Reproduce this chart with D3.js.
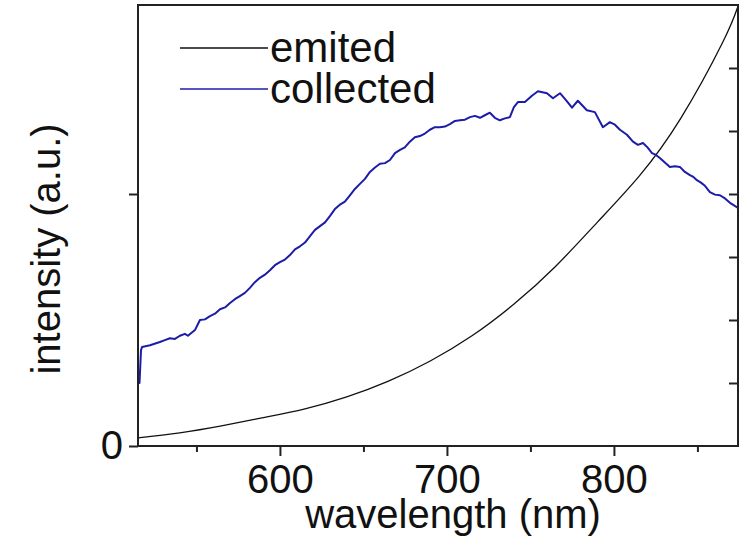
<!DOCTYPE html>
<html><head><meta charset="utf-8">
<script src="https://cdn.jsdelivr.net/npm/d3@7"></script>
<style>
html,body{margin:0;padding:0;background:#fff;}
svg{display:block;font-family:"Liberation Sans",Arial,sans-serif;}
</style></head>
<body>
<svg id="chart" width="742" height="540"></svg>
<script>
// ---- data ----
const emittedWavelength = [515, 540, 565, 590, 615, 640, 665, 690, 715, 740, 765, 790, 815, 840, 865, 874.3];
const emittedIntensity  = [0.13, 0.21, 0.32, 0.45, 0.59, 0.78, 1.03, 1.35, 1.75, 2.25, 2.85, 3.55, 4.28, 5.20, 6.40, 6.98];

const collectedWavelength = [515.3, 515.9, 516.8, 517.4, 522.2, 528.1, 531.1, 534.1, 537.1, 540.1, 543.1, 544.9, 549.1,
  552.1, 555.1, 558.1, 561.1, 564.1, 567.1, 570.1, 573.0, 576.0, 579.0, 582.0, 585.0, 588.0, 591.0, 594.0, 597.0,
  600, 603.0, 606.0, 609.0, 612.0, 615.0, 618.0, 621.0, 624.0, 627.0, 629.9, 632.9, 635.9, 638.9, 641.9, 644.9,
  647.9, 650.9, 653.9, 656.9, 659.9, 662.9, 665.9, 668.9, 671.9, 674.8, 677.8, 680.8, 683.8, 686.8, 689.8, 692.8,
  695.8, 698.8, 701.8, 704.8, 707.8, 710.8, 713.8, 716.8, 719.8, 722.7, 725.7, 728.7, 731.7, 734.7, 737.7, 740.1,
  742.5, 746.7, 750.9, 754.5, 759.9, 763.5, 767.7, 771.3, 774.9, 778.4, 783.8, 788.6, 793.4, 797.6, 800.6, 803.6,
  807.8, 811.4, 814.4, 817.4, 820.1, 822.8, 825.2, 827.5, 830.5, 833.5, 836.5, 839.5, 842.5, 845.5, 847.6, 849.7,
  852.1, 854.5, 857.5, 860.5, 863.5, 866.5, 869.5, 871.9, 874.3];
const collectedIntensity = [1.00, 1.00, 1.52, 1.57, 1.60, 1.65, 1.68, 1.71, 1.70, 1.75, 1.78, 1.75, 1.84,
  2.00, 2.01, 2.06, 2.10, 2.17, 2.20, 2.27, 2.33, 2.38, 2.43, 2.51, 2.60, 2.67, 2.72, 2.79, 2.87,
  2.92, 2.96, 3.03, 3.12, 3.17, 3.23, 3.33, 3.43, 3.49, 3.55, 3.65, 3.76, 3.83, 3.88, 3.98, 4.08,
  4.16, 4.24, 4.35, 4.42, 4.48, 4.49, 4.54, 4.65, 4.70, 4.74, 4.83, 4.90, 4.92, 4.96, 5.02, 5.06,
  5.06, 5.07, 5.11, 5.16, 5.17, 5.18, 5.22, 5.24, 5.21, 5.25, 5.29, 5.21, 5.17, 5.20, 5.22, 5.38,
  5.46, 5.46, 5.56, 5.63, 5.60, 5.52, 5.60, 5.49, 5.37, 5.48, 5.33, 5.30, 5.06, 5.14, 5.10, 5.02,
  4.94, 4.83, 4.78, 4.81, 4.74, 4.65, 4.62, 4.57, 4.50, 4.43, 4.44, 4.43, 4.35, 4.30, 4.27, 4.22,
  4.18, 4.13, 4.03, 3.99, 3.98, 3.93, 3.86, 3.82, 3.78];

const xDomain = [515, 874.3];
const yDomain = [0, 7];
const xMajorTicks = [600, 700, 800];
const xMinorTicks = [550, 650, 750, 850];
const yTicks = [1, 2, 3, 4, 5, 6];
const yLabelTicks = [0];
const leftTicks = [0, 4];
const seriesNames = ["emited", "collected"];
const seriesColors = ["#111111", "#1c1ca8"];
const xTitle = "wavelength (nm)";
const yTitle = "intensity (a.u.)";

// ---- layout ----
const L = 138, R = 738, T = 5, B = 446;
const svg = d3.select("#chart");
const x = d3.scaleLinear().domain(xDomain).range([L, R]);
const y = d3.scaleLinear().domain(yDomain).range([B, T]);

const emitted = emittedWavelength.map((w, i) => [w, emittedIntensity[i]]);
const collected = collectedWavelength.map((w, i) => [w, collectedIntensity[i]]);

svg.append("path").datum(emitted)
  .attr("fill", "none").attr("stroke", seriesColors[0]).attr("stroke-width", 1.3)
  .attr("d", d3.line().x(d => x(d[0])).y(d => y(d[1])).curve(d3.curveNatural));
svg.append("path").datum(collected)
  .attr("fill", "none").attr("stroke", seriesColors[1]).attr("stroke-width", 2)
  .attr("stroke-linejoin", "round")
  .attr("d", d3.line().x(d => x(d[0])).y(d => y(d[1])));

// frame
svg.append("rect").attr("x", L).attr("y", T).attr("width", R - L).attr("height", B - T)
  .attr("fill", "none").attr("stroke", "#222").attr("stroke-width", 2);

// bottom axis
const gx = svg.append("g").attr("transform", `translate(0,${B})`);
gx.call(d3.axisBottom(x).tickValues(xMajorTicks).tickSize(10).tickPadding(9).tickFormat(d3.format("d")));
gx.select(".domain").remove();
gx.selectAll(".tick line").attr("stroke", "#222").attr("stroke-width", 2);
gx.selectAll(".tick text").attr("font-size", 40).attr("fill", "#111")
  .attr("font-family", "Liberation Sans, Arial, sans-serif");
const gxm = svg.append("g").attr("transform", `translate(0,${B})`);
gxm.call(d3.axisBottom(x).tickValues(xMinorTicks).tickSize(6).tickFormat(""));
gxm.select(".domain").remove();
gxm.selectAll(".tick line").attr("stroke", "#222").attr("stroke-width", 2);

// right axis ticks (inside)
const gr = svg.append("g").attr("transform", `translate(${R},0)`);
gr.call(d3.axisLeft(y).tickValues(yTicks).tickSize(9).tickFormat(""));
gr.select(".domain").remove();
gr.selectAll(".tick line").attr("stroke", "#222").attr("stroke-width", 2);

// left axis ticks (outside) + label
const gl = svg.append("g").attr("transform", `translate(${L},0)`);
gl.call(d3.axisLeft(y).tickValues(leftTicks).tickSize(9).tickPadding(6)
  .tickFormat(d => yLabelTicks.includes(d) ? d3.format("d")(d) : ""));
gl.select(".domain").remove();
gl.selectAll(".tick line").attr("stroke", "#222").attr("stroke-width", 2);
gl.selectAll(".tick text").attr("font-size", 40).attr("fill", "#111")
  .attr("font-family", "Liberation Sans, Arial, sans-serif");

// axis titles
svg.append("text").attr("x", 453).attr("y", 528).attr("text-anchor", "middle")
  .attr("font-size", 40).attr("fill", "#111").text(xTitle);
svg.append("text").attr("transform", "translate(60,249) rotate(-90)").attr("text-anchor", "middle")
  .attr("font-size", 40).attr("fill", "#111").text(yTitle);

// legend
const legendY = [48, 89];
seriesNames.forEach((name, i) => {
  svg.append("line").attr("x1", 180).attr("x2", 268).attr("y1", legendY[i]).attr("y2", legendY[i])
    .attr("stroke", seriesColors[i]).attr("stroke-width", 1.5);
  svg.append("text").attr("x", 270).attr("y", legendY[i] + 14).attr("font-size", 42)
    .attr("fill", "#111").text(name);
});
</script>
</body></html>
